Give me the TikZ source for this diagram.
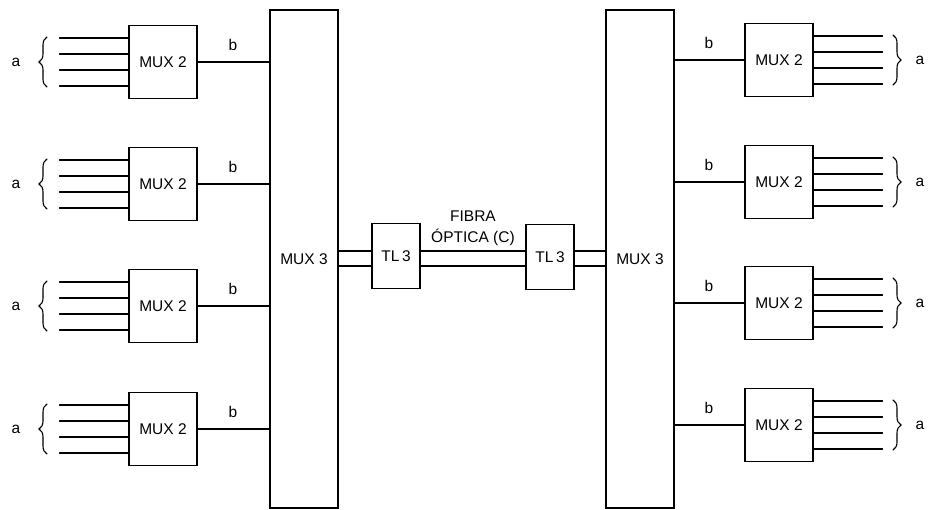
\documentclass[tikz,border=0pt]{standalone}
\usepackage{fontspec}
\setmainfont{Liberation Sans}
\usetikzlibrary{decorations.pathreplacing}
\begin{document}
\begin{tikzpicture}[x=1pt,y=-1pt,line cap=round,line width=1.1pt,
    font=\fontsize{15.5}{18}\selectfont,
    mux/.style={draw,minimum width=68pt,minimum height=73pt,inner sep=0pt},
    bigmux/.style={draw,minimum width=68pt,minimum height=498pt,inner sep=0pt},
    term/.style={draw,minimum width=48pt,minimum height=65pt,inner sep=0pt},
    grp/.style={decorate,decoration={brace,amplitude=8pt}}]
  \useasboundingbox (0,0) rectangle (929,510);
  % Third order multiplexers and the two line terminals of the fibre link.
  \node[bigmux] (mxl) at (304,259) {MUX 3};
  \node[bigmux] (mxr) at (640,259) {MUX 3};
  \node[term] (tll) at (396,256) {TL\,3};
  \node[term] (tlr) at (550,257) {TL\,3};
  \foreach \y in {251,266} {
    \draw (mxl.east |- 0,\y) -- (tll.west |- 0,\y);
    \draw (tll.east |- 0,\y) -- (tlr.west |- 0,\y);
    \draw (tlr.east |- 0,\y) -- (mxr.west |- 0,\y);
  }
  \node (fib1) at (473,216) {FIBRA};
  \node (fib2) at (473,237) {ÓPTICA (C)};
  % Left side: four MUX 2, each with four tributaries a.
  \foreach \n/\c in {1/62,2/184,3/306,4/429} {
    \node[mux] (ml\n) at (163,\c) {MUX 2};
    \foreach \d in {24,8,-8,-24}
      \draw ([yshift=\d pt]ml\n.west) -- +(-69,0);
    \draw[grp] (47,\c+25) -- (47,\c-25);
    \node (al\n) at (16,\c) {a};
    \draw (ml\n.east) -- (ml\n.east -| mxl.west);
    \node (bl\n) at (233,\c-17) {b};
  }
  % Right side: the same, mirrored.
  \foreach \n/\c in {1/60,2/182,3/303,4/425} {
    \node[mux] (mr\n) at (779,\c) {MUX 2};
    \foreach \d in {24,8,-8,-24}
      \draw ([yshift=\d pt]mr\n.east) -- +(69,0);
    \draw[grp] (893,\c-25) -- (893,\c+25);
    \node (ar\n) at (920,\c) {a};
    \draw (mr\n.west) -- (mr\n.west -| mxr.east);
    \node (br\n) at (709,\c-17) {b};
  }
\end{tikzpicture}
\end{document}
